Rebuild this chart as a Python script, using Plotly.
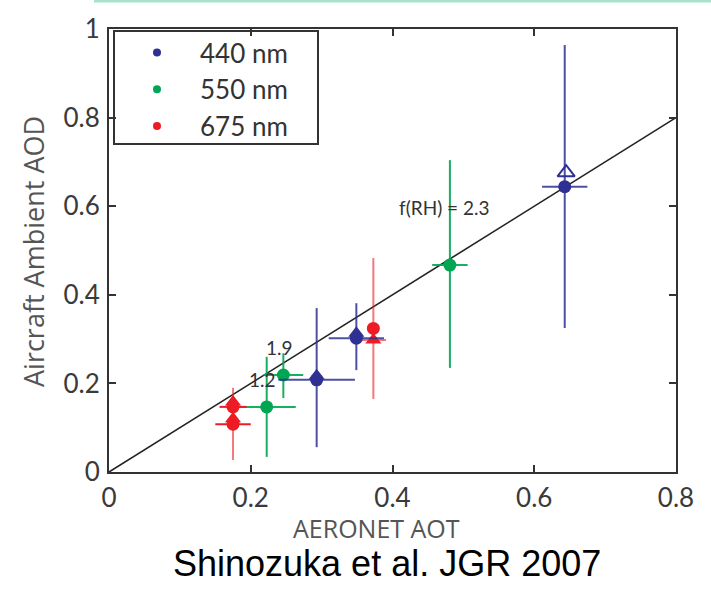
import plotly.graph_objects as go

# ---------------- data ----------------
x_ticks = [0, 0.2, 0.4, 0.6, 0.8]
x_tick_text = ["0", "0.2", "0.4", "0.6", "0.8"]
y_ticks = [0, 0.2, 0.4, 0.6, 0.8, 1.0]
y_tick_text = ["0", "0.2", "0.4", "0.6", "0.8", "1"]

# 440 nm (blue) circles
blue_x = [0.643, 0.293, 0.349]
blue_y = [0.644, 0.208, 0.302]
blue_xerr = [0.032, 0.054, 0.039]
blue_yerr_plus = [0.320, 0.162, 0.079]
blue_yerr_minus = [0.319, 0.152, 0.072]
# 440 nm triangles
blue_tri_x = [0.645, 0.293, 0.349]
blue_tri_y = [0.676, 0.217, 0.313]

# 550 nm (green) circles
green_x = [0.481, 0.246, 0.2225]
green_y = [0.467, 0.219, 0.147]
green_xerr = [0.025, 0.028, 0.041]
green_yerr_plus = [0.237, 0.049, 0.113]
green_yerr_minus = [0.232, 0.052, 0.113]

# 675 nm (red) circles
red_x = [0.373, 0.175, 0.175]
red_y = [0.324, 0.147, 0.108]
red_xerr = [0.0, 0.019, 0.025]
red_yerr_plus = [0.159, 0.043, 0.04]
red_yerr_minus = [0.159, 0.04, 0.081]
# 675 nm triangles
red_tri_x = [0.373, 0.175, 0.175]
red_tri_y = [0.298, 0.158, 0.120]
red_tri_xerr = [0.018, 0.0, 0.0]

fit_x = [0, 0.8]
fit_y = [0, 0.8]

legend_names = ["440 nm", "550 nm", "675 nm"]

BLUE = "#2e3192"
BLUE_E = "rgba(46,49,146,0.85)"
GREEN = "#00a651"
GREEN_E = "rgba(0,166,81,0.9)"
RED = "#ed1c24"
RED_E = "rgba(237,28,36,0.6)"
FONT = "Lato"
TFONT = "Open Sans"

# plot area in pixels
L, R, T, B = 109, 676, 29, 472
W, H = 711, 590
def px(xp):
    return (xp - L) / (R - L)
def py(yp):
    return (B - yp) / (B - T)

fig = go.Figure()

# fit line
fig.add_trace(go.Scatter(x=fit_x, y=fit_y, mode="lines",
                         line=dict(color="#222", width=1.6), showlegend=False, hoverinfo="skip"))

def err(arr, minus=None, color="#000", th=2):
    d = dict(type="data", array=arr, symmetric=minus is None, color=color, thickness=th, width=0, visible=True)
    if minus is not None:
        d["arrayminus"] = minus
    return d

# green
fig.add_trace(go.Scatter(x=green_x, y=green_y, mode="markers",
                         marker=dict(symbol="circle", size=13, color=GREEN),
                         error_x=err(green_xerr, color=GREEN_E),
                         error_y=err(green_yerr_plus, green_yerr_minus, color=GREEN_E),
                         showlegend=False))
# red
fig.add_trace(go.Scatter(x=red_tri_x, y=red_tri_y, mode="markers",
                         marker=dict(symbol="triangle-up", size=14, color=RED),
                         error_x=err(red_tri_xerr, color=RED_E),
                         showlegend=False))
fig.add_trace(go.Scatter(x=red_x, y=red_y, mode="markers",
                         marker=dict(symbol="circle", size=13, color=RED),
                         error_x=err(red_xerr, color=RED),
                         error_y=err(red_yerr_plus, red_yerr_minus, color=RED_E),
                         showlegend=False))
# blue
fig.add_trace(go.Scatter(x=blue_x, y=blue_y, mode="markers",
                         marker=dict(symbol="circle", size=13, color=BLUE),
                         error_x=err(blue_xerr, color=BLUE_E),
                         error_y=err(blue_yerr_plus, blue_yerr_minus, color=BLUE_E),
                         showlegend=False))
fig.add_trace(go.Scatter(x=blue_tri_x[1:], y=blue_tri_y[1:], mode="markers",
                         marker=dict(symbol="triangle-up", size=14, color=BLUE),
                         showlegend=False))
fig.add_trace(go.Scatter(x=blue_tri_x[:1], y=blue_tri_y[:1], mode="markers",
                         marker=dict(symbol="triangle-up-open", size=15, color=BLUE,
                                     line=dict(width=2, color=BLUE)),
                         showlegend=False))

# legend entries
for name, col in zip(legend_names, [BLUE, GREEN, RED]):
    fig.add_trace(go.Scatter(x=[None], y=[None], mode="markers", name=name,
                             marker=dict(symbol="circle", size=8, color=col)))

axis_common = dict(showline=True, mirror="ticks", linecolor="#333", linewidth=2,
                   ticks="inside", ticklen=7, tickwidth=2, tickcolor="#333",
                   showgrid=False, zeroline=False,
                   tickfont=dict(family=FONT, size=26, color="#3a3a3a"))

fig.update_xaxes(range=[0, 0.8], tickvals=x_ticks, ticktext=x_tick_text,
                 ticklabelstandoff=2, **axis_common)
fig.update_yaxes(range=[0, 1.0], tickvals=y_ticks, ticktext=y_tick_text,
                 ticklabelstandoff=2, **axis_common)

annotations = [
    dict(text="f(RH) = 2.3", x=0.474, y=0.598, xref="x", yref="y", showarrow=False,
         font=dict(family=FONT, size=19, color="#333")),
    dict(text="1.9", x=0.241, y=0.28, xref="x", yref="y", showarrow=False,
         font=dict(family=FONT, size=19, color="#333")),
    dict(text="1.2", x=0.217, y=0.208, xref="x", yref="y", showarrow=False,
         font=dict(family=FONT, size=19, color="#333")),
    dict(text="Aircraft Ambient AOD", x=px(33), y=py(252), xref="paper", yref="paper",
         xanchor="center", yanchor="middle",
         textangle=-90, showarrow=False, font=dict(family=TFONT, size=27, color="#555")),
    dict(text="AERONET AOT", x=px(376), y=py(528), xref="paper", yref="paper",
         xanchor="center", yanchor="middle",
         showarrow=False, font=dict(family=TFONT, size=25, color="#555")),
    dict(text="Shinozuka et al. JGR 2007", x=px(387), y=py(563), xref="paper", yref="paper",
         xanchor="center", yanchor="middle",
         showarrow=False, font=dict(family="Liberation Sans, Arial", size=36, color="#000")),
]

shapes = [
    dict(type="line", xref="paper", yref="paper", x0=px(94), x1=px(711), y0=py(1), y1=py(1),
         line=dict(color="#a8e2cb", width=3)),
    dict(type="rect", xref="paper", yref="paper", x0=px(114), x1=px(318), y0=py(144), y1=py(31),
         line=dict(color="#333", width=2), fillcolor="rgba(0,0,0,0)"),
]

fig.update_layout(
    width=W, height=H,
    margin=dict(l=L, r=W - R, t=T, b=H - B),
    plot_bgcolor="white", paper_bgcolor="white",
    showlegend=True,
    legend=dict(x=px(114), y=py(29), xanchor="left", yanchor="top",
                bgcolor="rgba(0,0,0,0)", borderwidth=0,
                itemwidth=76, tracegroupgap=0,
                font=dict(family=FONT, size=26, color="#333")),
    annotations=annotations, shapes=shapes,
)

fig.write_html("out.html")
